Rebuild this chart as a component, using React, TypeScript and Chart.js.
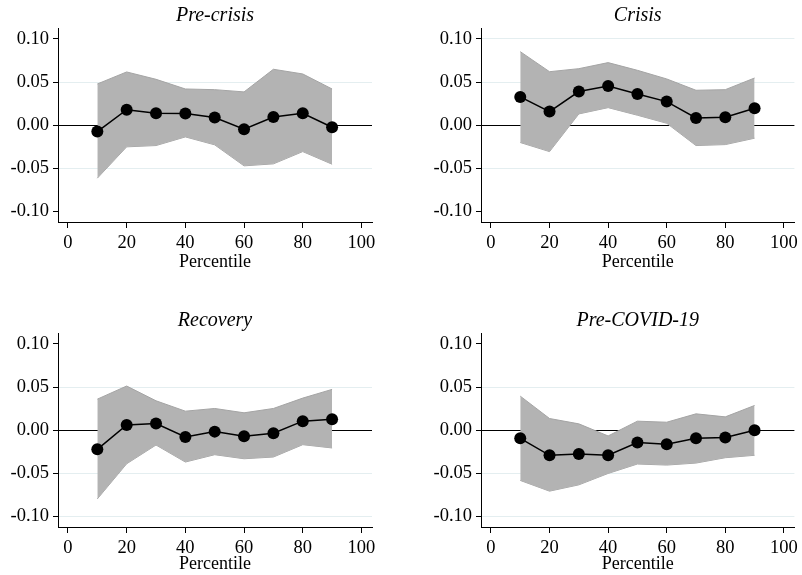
import React, { useEffect, useRef } from "react";
import { Chart, registerables } from "chart.js";

Chart.register(...registerables);

const PERCENTILES = [10, 20, 30, 40, 50, 60, 70, 80, 90];
const X_TICKS = [0, 20, 40, 60, 80, 100];
const Y_TICKS = [-0.1, -0.05, 0, 0.05, 0.1];

const PRE_CRISIS_EST = [-0.0073, 0.018, 0.0139, 0.0135, 0.0089, -0.0046, 0.0096, 0.0139, -0.0023];
const PRE_CRISIS_HI = [0.0478, 0.0617, 0.0532, 0.042, 0.0412, 0.0386, 0.0648, 0.0594, 0.042];
const PRE_CRISIS_LO = [-0.0613, -0.025, -0.0235, -0.0135, -0.0227, -0.047, -0.0447, -0.0305, -0.0451];

const CRISIS_EST = [0.0328, 0.0158, 0.039, 0.0455, 0.0362, 0.0274, 0.0085, 0.0093, 0.0197];
const CRISIS_HI = [0.0852, 0.062, 0.0655, 0.0725, 0.0636, 0.0536, 0.0405, 0.0412, 0.0547];
const CRISIS_LO = [-0.02, -0.0305, 0.0131, 0.0204, 0.0116, 0.0023, -0.0235, -0.0224, -0.015];

const RECOVERY_EST = [-0.0221, 0.0062, 0.0078, -0.0078, -0.0016, -0.007, -0.0035, 0.0105, 0.0128];
const RECOVERY_HI = [0.036, 0.0512, 0.0341, 0.0221, 0.0252, 0.0202, 0.0252, 0.0372, 0.0473];
const RECOVERY_LO = [-0.0795, -0.0388, -0.0171, -0.0368, -0.0283, -0.033, -0.031, -0.0167, -0.0205];

const PRECOVID_EST = [-0.0093, -0.029, -0.0275, -0.029, -0.0143, -0.0163, -0.0093, -0.0085, 0.0];
const PRECOVID_HI = [0.0395, 0.0136, 0.0074, -0.0066, 0.0105, 0.0093, 0.019, 0.0155, 0.0287];
const PRECOVID_LO = [-0.0581, -0.0705, -0.0632, -0.05, -0.0391, -0.0403, -0.038, -0.0318, -0.029];

const TITLES = ["Pre-crisis", "Crisis", "Recovery", "Pre-COVID-19"];
const X_LABEL = "Percentile";

type Panel = {
  title: string;
  est: number[];
  hi: number[];
  lo: number[];
  grid: number[];
  left: number;
  top: number;
  width: number;
  height: number;
  yWidth: number;
  xHeight: number;
  padRight: number;
};

const PANELS: Panel[] = [
  { title: TITLES[0], est: PRE_CRISIS_EST, hi: PRE_CRISIS_HI, lo: PRE_CRISIS_LO, grid: [0.05, -0.05], left: 0, top: 0, width: 401, height: 273, yWidth: 58, xHeight: 51, padRight: 29 },
  { title: TITLES[1], est: CRISIS_EST, hi: CRISIS_HI, lo: CRISIS_LO, grid: [0.1, 0.05, -0.05], left: 401, top: 0, width: 401, height: 273, yWidth: 80, xHeight: 51, padRight: 7 },
  { title: TITLES[2], est: RECOVERY_EST, hi: RECOVERY_HI, lo: RECOVERY_LO, grid: [0.05, -0.05, -0.1], left: 0, top: 305, width: 401, height: 270, yWidth: 58, xHeight: 48, padRight: 29 },
  { title: TITLES[3], est: PRECOVID_EST, hi: PRECOVID_HI, lo: PRECOVID_LO, grid: [0.05, -0.05, -0.1], left: 401, top: 305, width: 401, height: 270, yWidth: 80, xHeight: 48, padRight: 7 },
];

const FONT = "'Liberation Serif', 'Times New Roman', serif";
const toPts = (vals: number[]) => PERCENTILES.map((x, i) => ({ x, y: vals[i] }));

function PanelChart({ p }: { p: Panel }) {
  const ref = useRef<HTMLCanvasElement>(null);
  useEffect(() => {
    if (!ref.current) return;
    const chart = new Chart(ref.current, {
      type: "line",
      data: {
        datasets: [
          {
            data: toPts(p.est),
            borderColor: "#000",
            borderWidth: 1.5,
            pointRadius: 6,
            pointBackgroundColor: "#000",
            pointBorderColor: "#000",
            pointBorderWidth: 0,
            fill: false,
            tension: 0,
          },
          {
            data: toPts(p.hi),
            borderColor: "#a4a4a4",
            borderWidth: 1,
            backgroundColor: "#b3b3b3",
            pointRadius: 0,
            fill: "+1",
            tension: 0,
          },
          {
            data: toPts(p.lo),
            borderColor: "#a4a4a4",
            borderWidth: 1,
            pointRadius: 0,
            fill: false,
            tension: 0,
          },
        ],
      },
      options: {
        animation: false,
        responsive: false,
        maintainAspectRatio: false,
        layout: { padding: { left: 0, right: p.padRight, top: 0, bottom: 0 } },
        plugins: {
          legend: { display: false },
          tooltip: { enabled: false },
          title: {
            display: true,
            fullSize: false,
            text: p.title,
            color: "#000",
            font: { family: FONT, size: 20, style: "italic", weight: "normal" },
            padding: { top: 4, bottom: 0.5 },
          },
        },
        scales: {
          x: {
            type: "linear",
            min: -3.4,
            max: 103.6,
            afterBuildTicks: (s: any) => {
              s.ticks = X_TICKS.map((v) => ({ value: v }));
            },
            afterFit: (s: any) => {
              s.height = p.xHeight;
            },
            border: { display: true, color: "#000", width: 1 },
            grid: { drawOnChartArea: false, drawTicks: true, tickLength: 6, color: "#000", tickColor: "#000" },
            ticks: { color: "#000", font: { family: FONT, size: 18.5 }, padding: 4, maxRotation: 0 },
            title: {
              display: true,
              text: X_LABEL,
              color: "#000",
              font: { family: FONT, size: 18 },
              padding: { top: 0, bottom: 0 },
            },
          },
          y: {
            type: "linear",
            min: -0.112,
            max: 0.112,
            afterBuildTicks: (s: any) => {
              s.ticks = Y_TICKS.map((v) => ({ value: v }));
            },
            afterFit: (s: any) => {
              s.width = p.yWidth;
            },
            border: { display: true, color: "#000", width: 1 },
            grid: {
              drawOnChartArea: true,
              drawTicks: true,
              tickLength: 5,
              tickColor: "#000",
              lineWidth: 1,
              color: (ctx: any) => {
                const v = ctx.tick ? ctx.tick.value : null;
                if (v === null || v === undefined) return "transparent";
                if (Math.abs(v) < 1e-9) return "#000";
                if (p.grid.some((g) => Math.abs(g - v) < 1e-9)) return "#e4eef0";
                return "transparent";
              },
            },
            ticks: {
              color: "#000",
              font: { family: FONT, size: 18.5 },
              padding: 4,
              callback: (v: any) => Number(v).toFixed(2),
            },
          },
        },
      },
    });
    return () => chart.destroy();
  }, [p]);
  return (
    <div style={{ position: "absolute", left: p.left, top: p.top, width: p.width, height: p.height }}>
      <canvas ref={ref} width={p.width} height={p.height} style={{ width: p.width, height: p.height, display: "block" }} />
    </div>
  );
}

export default function App() {
  return (
    <div style={{ position: "absolute", left: 0, top: 0, width: 802, height: 575, background: "#fff", overflow: "hidden" }}>
      {PANELS.map((p, i) => (
        <PanelChart key={i} p={p} />
      ))}
    </div>
  );
}
